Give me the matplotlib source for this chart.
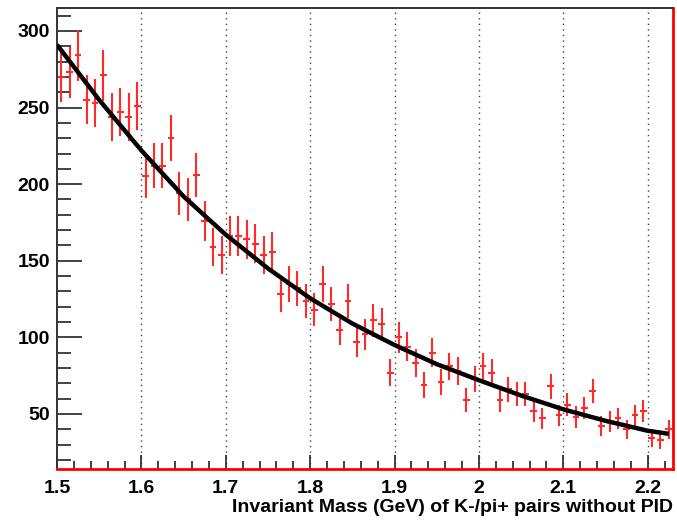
import numpy as np
import matplotlib
matplotlib.use("Agg")
import matplotlib.pyplot as plt
from matplotlib.ticker import MultipleLocator

plt.rcParams['font.family'] = ['Liberation Sans', 'DejaVu Sans']

# histogram: 73 bins of 0.01 GeV starting at 1.50
bin_lo = 1.50
bin_width = 0.01
counts = [270, 273, 284, 255, 253, 271, 244, 247, 244, 251,
          205, 212, 212, 230, 194, 190, 206, 176, 159, 154,
          166, 166, 164, 161, 154, 156, 128, 135, 132, 124,
          118, 135, 122, 105, 124, 97, 102, 111, 109, 77,
          100, 94, 83, 69, 90, 71, 81, 78, 59, 73,
          81, 77, 59, 66, 63, 63, 52, 47, 68, 49,
          56, 48, 54, 65, 42, 45, 47, 40, 49, 52,
          34, 33, 40]

# fit curve
fit_x = [1.50, 1.55, 1.60, 1.65, 1.70, 1.75, 1.80, 1.85, 1.90,
         1.95, 2.00, 2.05, 2.10, 2.15, 2.20, 2.225]
fit_y = [291, 255, 222, 192, 167, 145, 125.5, 109, 95,
         82.5, 72, 62, 53, 45.5, 39, 37]

xticks = [1.5, 1.6, 1.7, 1.8, 1.9, 2.0, 2.1, 2.2]
xticklabels = ['1.5', '1.6', '1.7', '1.8', '1.9', '2', '2.1', '2.2']
yticks = [50, 100, 150, 200, 250, 300]

counts = np.array(counts, dtype=float)
centers = bin_lo + bin_width * (np.arange(len(counts)) + 0.5)
errors = np.sqrt(counts)

fig = plt.figure(figsize=(6.77, 5.2), dpi=100)
ax = fig.add_axes([0.0842, 0.098, 0.9098, 0.8866])

for x in xticks[1:]:
    ax.axvline(x, color='#444444', lw=1.0, ls=(0, (1, 3)), zorder=0)

ax.errorbar(centers, counts, yerr=errors, xerr=0.004, fmt='none',
            ecolor='#ff2a2a', elinewidth=1.5, capsize=0, zorder=2)
ax.plot(fit_x, fit_y, color='black', lw=3.2, solid_capstyle='butt', zorder=3)

ax.set_xlim(1.5, 2.23)
ax.set_ylim(14, 315)

ax.set_xticks(xticks)
ax.set_xticklabels(xticklabels)
ax.set_yticks(yticks)
ax.xaxis.set_minor_locator(MultipleLocator(0.02))
ax.yaxis.set_minor_locator(MultipleLocator(10))

ax.tick_params(axis='both', which='both', direction='in', color='#333333',
               width=1.3, top=False, right=False)
ax.tick_params(axis='y', which='major', length=18, pad=5)
ax.tick_params(axis='y', which='minor', length=10)
ax.tick_params(axis='x', which='major', length=10, pad=8)
ax.tick_params(axis='x', which='minor', length=6)

for lab in ax.get_xticklabels() + ax.get_yticklabels():
    lab.set_fontsize(14)
    lab.set_fontweight('bold')

for side in ['top', 'left']:
    ax.spines[side].set_color('#333333')
    ax.spines[side].set_linewidth(1.4)
for side in ['bottom', 'right']:
    ax.spines[side].set_color('red')
    ax.spines[side].set_linewidth(2.0)

ax.set_xlabel('Invariant Mass (GeV) of K-/pi+ pairs without PID',
              fontsize=14, fontweight='bold', loc='right', labelpad=1)

fig.savefig('out.png', dpi=100)
